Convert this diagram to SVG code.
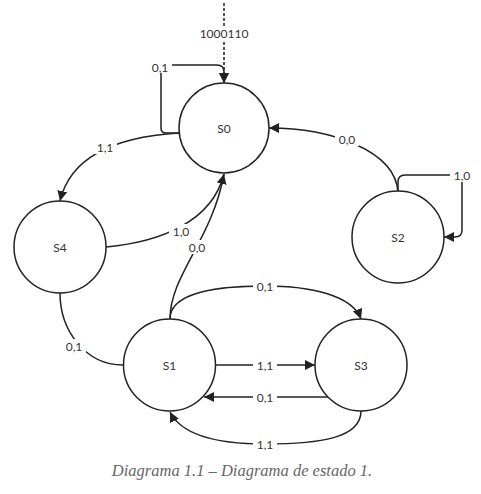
<svg xmlns="http://www.w3.org/2000/svg" width="481" height="494" viewBox="0 0 481 494">
<style>
.n{fill:#fff;stroke:#222;stroke-width:1.5}
.e{fill:none;stroke:#222;stroke-width:1.5}
.t{font-family:Lato,"Liberation Sans",sans-serif;font-size:12px;fill:#333;text-anchor:middle;dominant-baseline:central}
.b{fill:#fff}
</style>
<defs>
<marker id="a" viewBox="0 0 10 10" refX="10" refY="5" markerWidth="10" markerHeight="10" markerUnits="userSpaceOnUse" orient="auto">
<path d="M0,0 L10,5 L0,10 Z" fill="#222"/>
</marker>
</defs>
<rect width="481" height="494" fill="#fff"/>
<g id="connectors">
<path class="e" d="M224,3 V26" stroke-dasharray="3,2"/>
<path class="e" d="M224,42 V83" stroke-dasharray="3,2" marker-end="url(#a)"/>
<path class="e" d="M179,133 H166 Q161,133 161,128 V70 Q161,65 166,65 H217 Q224,65 224,72 V83" marker-end="url(#a)"/>
<path class="e" d="M179,133 C130,136 72,150 60,201" marker-end="url(#a)"/>
<path class="e" d="M106,247 C160,242 212,222 224,174" marker-end="url(#a)"/>
<path class="e" d="M170,319 C170,275 212,240 224,174"/>
<path class="e" d="M398,192 C395,150 330,128 269,128" marker-end="url(#a)"/>
<path class="e" d="M398,192 V182 Q398,175 405,175 H455 Q462,175 462,182 V230 Q462,237 455,237 H444" marker-end="url(#a)"/>
<path class="e" d="M60,293 C60,330 85,365 123,365"/>
<path class="e" d="M170,319 C170,292 220,286 265,286 C310,286 352,295 361,319" marker-end="url(#a)"/>
<path class="e" d="M216,365 H315" marker-end="url(#a)"/>
<path class="e" d="M331,397 H204" marker-end="url(#a)"/>
<path class="e" d="M361,411 C361,438 320,444 265,444 C210,444 180,432 170,412" marker-end="url(#a)"/>
<rect class="b" x="196" y="26" width="56" height="15"/>
<rect class="b" x="148" y="59" width="24" height="14"/>
<rect class="b" x="93" y="140" width="24" height="14"/>
<rect class="b" x="169" y="224" width="24" height="14"/>
<rect class="b" x="185" y="240" width="24" height="14"/>
<rect class="b" x="335" y="132" width="24" height="14"/>
<rect class="b" x="450" y="168" width="24" height="14"/>
<rect class="b" x="62" y="339" width="24" height="14"/>
<rect class="b" x="253" y="279" width="24" height="14"/>
<rect class="b" x="253" y="358" width="24" height="14"/>
<rect class="b" x="253" y="390" width="24" height="14"/>
<rect class="b" x="253" y="437" width="24" height="14"/>
<text class="t" x="224" y="33">1000110</text>
<text class="t" x="160" y="67">0,1</text>
<text class="t" x="105" y="147">1,1</text>
<text class="t" x="181" y="231">1,0</text>
<text class="t" x="197" y="247">0,0</text>
<text class="t" x="347" y="139">0,0</text>
<text class="t" x="462" y="175">1,0</text>
<text class="t" x="74" y="346">0,1</text>
<text class="t" x="265" y="286">0,1</text>
<text class="t" x="265" y="365">1,1</text>
<text class="t" x="265" y="397">0,1</text>
<text class="t" x="265" y="444">1,1</text>
</g>
<g id="S0"><circle class="n" cx="224" cy="128" r="45"/><text class="t" x="224" y="128">S0</text></g>
<g id="S4"><circle class="n" cx="60" cy="247" r="46"/><text class="t" x="60" y="247">S4</text></g>
<g id="S2"><circle class="n" cx="398" cy="237" r="46"/><text class="t" x="398" y="237">S2</text></g>
<g id="S1"><circle class="n" cx="169.5" cy="365" r="46"/><text class="t" x="169.5" y="365">S1</text></g>
<g id="S3"><circle class="n" cx="361" cy="365" r="46"/><text class="t" x="361" y="365">S3</text></g>
<text x="242" y="476" font-family="'Liberation Serif',serif" font-style="italic" font-size="16.5" fill="#666" text-anchor="middle">Diagrama 1.1 – Diagrama de estado 1.</text>
</svg>
